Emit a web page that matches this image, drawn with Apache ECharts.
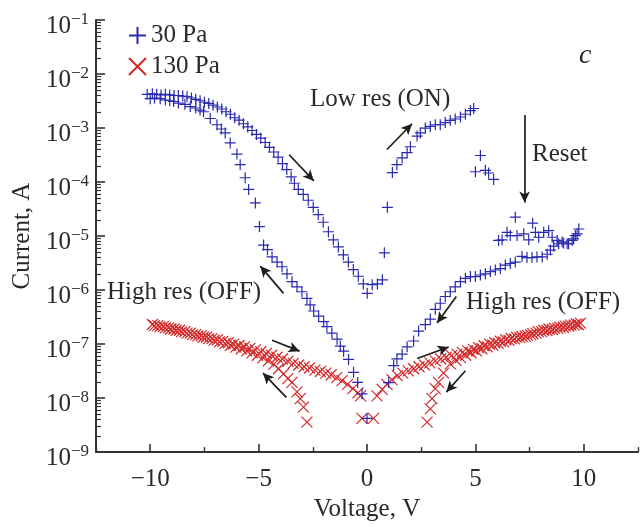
<!DOCTYPE html>
<html><head><meta charset="utf-8">
<script src="https://cdn.jsdelivr.net/npm/echarts@6/dist/echarts.min.js"></script>
<style>html,body{margin:0;padding:0;background:#fff}#c{width:640px;height:527px}</style>
</head><body><div id="c"></div>
<script>
// ---- tick labels / categories ----
const xMajorTicks = [-10, -5, 0, 5, 10];
const xMinorTicks = [-12.5, -7.5, -2.5, 2.5, 7.5, 12.5];
const yDecades = [1e-9, 1e-8, 1e-7, 1e-6, 1e-5, 1e-4, 1e-3, 1e-2, 1e-1];
const seriesNames = ['30 Pa', '130 Pa'];

// ---- 30 Pa (blue +) [V, A] ----
const blueOuterLeft = [[-10.14,4.2e-3],[-9.9,4.3e-3],[-9.7,4.2e-3],[-9.5,4.1e-3],[-9.3,4.2e-3],[-9.1,4.1e-3],[-8.9,4.0e-3],[-8.7,4.0e-3],[-8.5,3.9e-3],[-8.3,3.8e-3],[-8.1,3.6e-3],[-7.9,3.4e-3],[-7.7,3.2e-3],[-7.5,3.0e-3],[-7.3,2.85e-3],[-7.1,2.65e-3],[-6.9,2.45e-3],[-6.7,2.25e-3],[-6.5,2.0e-3],[-6.3,1.8e-3],[-6.1,1.55e-3],[-5.9,1.4e-3],[-5.7,1.2e-3],[-5.5,1.05e-3],[-5.3,9.0e-4],[-5.1,7.6e-4],[-4.9,6.5e-4],[-4.7,5.4e-4],[-4.5,4.4e-4],[-4.3,3.6e-4],[-4.1,2.9e-4],[-3.9,2.2e-4],[-3.7,1.7e-4],[-3.5,1.25e-4],[-3.35,9.5e-5],[-3.17,7.3e-5],[-2.94,5.9e-5],[-2.71,4.6e-5],[-2.48,3.4e-5],[-2.25,2.5e-5],[-2.02,1.8e-5],[-1.78,1.2e-5],[-1.55,8.5e-6],[-1.32,6.3e-6],[-1.09,4.5e-6],[-0.86,3.3e-6],[-0.63,2.4e-6],[-0.4,1.8e-6],[-0.17,1.3e-6],[0.01,8.7e-7],[0.24,1.26e-6],[0.48,1.3e-6],[0.71,1.55e-6]];
const blueInnerLeft = [[-10.0,3.5e-3],[-9.8,3.6e-3],[-9.54,3.5e-3],[-9.3,3.3e-3],[-9.1,3.2e-3],[-8.92,3.1e-3],[-8.7,2.9e-3],[-8.4,2.75e-3],[-8.15,2.5e-3],[-7.9,2.35e-3],[-7.7,2.15e-3],[-7.54,2.0e-3],[-7.23,1.5e-3],[-6.92,1.15e-3],[-6.72,9.6e-4],[-6.54,8.1e-4],[-6.31,5.3e-4],[-6.0,3.3e-4],[-5.85,2.1e-4],[-5.62,1.2e-4],[-5.46,7.3e-5],[-5.15,4.1e-5],[-4.96,1.5e-5],[-4.77,6.8e-6],[-4.59,5.6e-6],[-4.38,4.1e-6],[-4.15,3.3e-6],[-3.92,2.7e-6],[-3.69,2.0e-6],[-3.46,1.43e-6],[-3.23,1.15e-6],[-3.0,9.3e-7],[-2.77,7.0e-7],[-2.62,5.3e-7],[-2.46,4.1e-7],[-2.23,3.3e-7],[-2.0,2.6e-7],[-1.85,2.1e-7],[-1.62,1.6e-7],[-1.38,1.23e-7],[-1.23,9.2e-8],[-1.08,7.4e-8],[-0.85,5.2e-8],[-0.62,3.0e-8],[-0.43,1.95e-8],[-0.23,1.2e-8],[0.0,4.2e-9]];
const blueOnSwitch = [[0.80,4.9e-6],[0.94,3.4e-5],[1.17,1.5e-4]];
const blueLowRes = [[1.38,2.1e-4],[1.62,2.8e-4],[1.85,3.5e-4],[2.0,4.5e-4],[2.31,7.1e-4],[2.46,8.1e-4],[2.69,1.0e-3],[2.92,1.07e-3],[3.15,1.15e-3],[3.38,1.15e-3],[3.61,1.26e-3],[3.84,1.38e-3],[4.07,1.47e-3],[4.31,1.6e-3],[4.54,1.8e-3],[4.77,2.1e-3],[4.92,2.3e-3]];
const blueReset = [[5.23,3.1e-4],[5.0,1.55e-4],[5.46,1.65e-4],[5.61,1.47e-4],[5.84,1.12e-4],[6.84,2.24e-5],[7.64,1.73e-5]];
const blueResetCluster = [[6.07,8.3e-6],[6.23,8.5e-6],[6.46,1.17e-5],[6.61,1.02e-5],[6.92,1.02e-5],[7.23,1.1e-5],[7.46,8.5e-6],[7.77,1.17e-5],[7.92,9.5e-6],[8.15,1.17e-5],[8.38,1.26e-5],[8.54,9.5e-6],[8.77,8.3e-6],[9.0,7.8e-6],[9.23,7.2e-6],[9.46,8.3e-6],[9.61,1.02e-5],[9.77,1.35e-5]];
const blueOffRight = [[1.0,1.94e-8],[1.23,4.0e-8],[1.38,5.3e-8],[1.62,6.5e-8],[1.85,8.9e-8],[2.15,1.14e-7],[2.38,1.74e-7],[2.69,2.3e-7],[2.92,2.9e-7],[3.15,4.4e-7],[3.38,5.7e-7],[3.61,7.6e-7],[3.84,9.3e-7],[4.07,1.15e-6],[4.31,1.43e-6],[4.54,1.65e-6],[4.77,1.78e-6],[5.0,1.78e-6],[5.23,1.9e-6],[5.46,2.0e-6],[5.69,2.2e-6],[5.92,2.35e-6],[6.15,2.5e-6],[6.38,2.9e-6],[6.61,3.1e-6],[6.84,3.3e-6],[7.15,4.2e-6],[7.38,4.0e-6],[7.61,4.0e-6],[7.84,4.1e-6],[8.08,4.1e-6],[8.31,4.6e-6],[8.46,5.5e-6],[8.61,6.5e-6],[8.84,7.2e-6],[9.07,7.4e-6],[9.3,7.2e-6],[9.53,8.9e-6],[9.69,1.1e-5]];

// ---- 130 Pa (red x) [V, A] ----
const redLeftUpper = [[-9.9,2.3e-7],[-9.65,2.2e-7],[-9.4,2.1e-7],[-9.15,2.0e-7],[-8.9,1.9e-7],[-8.65,1.8e-7],[-8.4,1.7e-7],[-8.15,1.6e-7],[-7.9,1.5e-7],[-7.65,1.42e-7],[-7.4,1.35e-7],[-7.15,1.26e-7],[-6.9,1.2e-7],[-6.65,1.12e-7],[-6.4,1.06e-7],[-6.15,1.0e-7],[-5.9,9.4e-8],[-5.65,8.9e-8],[-5.4,8.3e-8],[-5.15,7.8e-8],[-4.9,7.2e-8],[-4.65,6.7e-8],[-4.4,6.2e-8],[-4.15,5.7e-8],[-3.9,5.3e-8],[-3.65,4.8e-8],[-3.4,4.4e-8],[-3.15,4.1e-8],[-2.9,3.8e-8],[-2.65,3.6e-8],[-2.4,3.3e-8],[-2.15,3.1e-8],[-1.9,2.9e-8],[-1.65,2.7e-8],[-1.4,2.4e-8],[-1.15,2.1e-8],[-0.9,1.8e-8],[-0.65,1.5e-8],[-0.42,1.25e-8],[-0.3,1.1e-8]];
const redLeftLower = [[-9.8,2.2e-7],[-9.55,2.1e-7],[-9.3,2.0e-7],[-9.05,1.9e-7],[-8.8,1.8e-7],[-8.55,1.7e-7],[-8.3,1.6e-7],[-8.05,1.5e-7],[-7.8,1.42e-7],[-7.55,1.34e-7],[-7.3,1.26e-7],[-7.05,1.18e-7],[-6.8,1.1e-7],[-6.55,1.02e-7],[-6.3,9.5e-8],[-6.05,8.8e-8],[-5.8,8.2e-8],[-5.55,7.5e-8],[-5.3,6.9e-8],[-5.05,6.2e-8],[-4.8,5.6e-8],[-4.55,4.9e-8],[-4.3,4.2e-8],[-4.08,3.5e-8],[-3.85,2.8e-8],[-3.65,2.3e-8],[-3.46,1.95e-8],[-3.23,1.3e-8],[-3.08,9.8e-9],[-2.93,6.8e-9],[-2.77,3.6e-9]];
const redZero = [[-0.23,4.2e-9],[0.3,4.2e-9]];
const redRightUpper = [[0.46,1.1e-8],[0.7,1.45e-8],[0.92,1.8e-8],[1.15,2.2e-8],[1.4,2.6e-8],[1.65,2.9e-8],[1.9,3.2e-8],[2.15,3.5e-8],[2.4,3.8e-8],[2.65,4.1e-8],[2.9,4.5e-8],[3.15,4.9e-8],[3.4,5.3e-8],[3.65,5.7e-8],[3.9,6.1e-8],[4.15,6.5e-8],[4.4,7.0e-8],[4.65,7.5e-8],[4.9,8.0e-8],[5.15,8.6e-8],[5.4,9.3e-8],[5.65,1.0e-7],[5.9,1.06e-7],[6.15,1.13e-7],[6.4,1.2e-7],[6.65,1.27e-7],[6.9,1.33e-7],[7.15,1.38e-7],[7.4,1.45e-7],[7.65,1.55e-7],[7.9,1.7e-7],[8.15,1.8e-7],[8.4,1.88e-7],[8.65,1.95e-7],[8.9,2.05e-7],[9.15,2.15e-7],[9.4,2.25e-7],[9.65,2.35e-7],[9.85,2.45e-7]];
const redRightLower = [[2.77,3.6e-9],[2.92,6.3e-9],[3.0,9.8e-9],[3.15,1.5e-8],[3.3,1.95e-8],[3.53,2.9e-8],[3.84,4.3e-8],[4.1,5.0e-8],[4.31,5.6e-8],[4.55,6.2e-8],[4.8,6.9e-8],[5.05,7.5e-8],[5.3,8.2e-8],[5.55,8.9e-8],[5.8,9.6e-8],[6.05,1.03e-7],[6.3,1.1e-7],[6.55,1.17e-7],[6.8,1.25e-7],[7.05,1.32e-7],[7.3,1.4e-7],[7.55,1.5e-7],[7.8,1.6e-7],[8.05,1.7e-7],[8.3,1.78e-7],[8.55,1.86e-7],[8.8,1.95e-7],[9.05,2.05e-7],[9.3,2.15e-7],[9.55,2.25e-7],[9.75,2.3e-7]];

// ---- annotation arrows [[V1,A1],[V2,A2]] (tail -> head) ----
const arrows = [
  [[-3.59,3.2e-4],[-2.45,1.05e-4]],
  [[0.92,4.0e-4],[2.08,1.2e-3]],
  [[7.27,1.75e-3],[7.27,4.2e-5]],
  [[-3.85,8.7e-7],[-4.92,2.78e-6]],
  [[4.12,7.6e-7],[3.23,2.46e-7]],
  [[-4.38,1.18e-7],[-3.11,7.4e-8]],
  [[-3.72,1.03e-8],[-4.80,2.9e-8]],
  [[2.31,5.4e-8],[3.77,8.8e-8]],
  [[4.54,3.2e-8],[3.66,1.29e-8]]
];

const FONT = '"Liberation Serif","Times New Roman",serif';
const TXT = '#2a2a2a';
const AX = '#333';
const BLUE = '#2a2ab0';
const RED = '#d42828';
const yMinorTicks = [];
for (let e = -9; e < -1; e++) for (let k = 2; k <= 9; k++) yMinorTicks.push(+(k * Math.pow(10, e)).toPrecision(3));

const blueAll = [].concat(blueOuterLeft, blueInnerLeft, blueOnSwitch, blueLowRes, blueReset, blueResetCluster, blueOffRight);
const redAll = [].concat(redLeftUpper, redLeftLower, redZero, redRightUpper, redRightLower);

const chart = echarts.init(document.getElementById('c'), null, {renderer: 'canvas'});
chart.setOption({
  animation: false,
  backgroundColor: '#fff',
  grid: {left: 96, right: 2, top: 20, bottom: 70},
  legend: {
    data: [{name: seriesNames[0]}, {name: seriesNames[1]}],
    orient: 'vertical', left: 123, top: 18, itemWidth: 17, itemHeight: 17, itemGap: 6,
    textStyle: {fontFamily: FONT, fontSize: 25, color: TXT, padding: [0, 0, 0, 0]},
    selectedMode: false
  },
  xAxis: [{
    type: 'value', min: -12.5, max: 12.5, position: 'bottom',
    name: 'Voltage, V', nameLocation: 'middle', nameGap: 41,
    nameTextStyle: {fontFamily: FONT, fontSize: 25, color: TXT},
    axisLine: {show: true, onZero: false, lineStyle: {color: AX, width: 2}},
    axisTick: {show: true, inside: true, length: 8, customValues: xMajorTicks, lineStyle: {color: AX, width: 1.6}},
    axisLabel: {customValues: xMajorTicks, margin: 15, fontFamily: FONT, fontSize: 25, color: TXT,
      formatter: v => (v < 0 ? '\u2212' + Math.abs(v) : String(v))},
    splitLine: {show: false}
  }, {
    type: 'value', min: -12.5, max: 12.5, position: 'bottom',
    axisLine: {show: false, onZero: false},
    axisTick: {show: true, inside: true, length: 5, customValues: xMinorTicks, lineStyle: {color: AX, width: 1.4}},
    axisLabel: {show: false}, splitLine: {show: false}
  }],
  yAxis: [{
    type: 'log', logBase: 10, min: 1e-9, max: 1e-1, position: 'left',
    name: 'Current, A', nameLocation: 'middle', nameGap: 53, nameRotate: 90,
    nameTextStyle: {fontFamily: FONT, fontSize: 25, color: TXT},
    axisLine: {show: true, onZero: false, lineStyle: {color: AX, width: 2}},
    axisTick: {show: true, inside: true, length: 9, customValues: yDecades, lineStyle: {color: AX, width: 1.6}},
    axisLabel: {customValues: yDecades, margin: 7, color: TXT, padding: [10, 0, 0, 0],
      formatter: v => '{b|10}{s|\u2212' + Math.abs(Math.round(Math.log10(v))) + '}',
      rich: {b: {fontFamily: FONT, fontSize: 25, color: TXT, verticalAlign: 'bottom'},
             s: {fontFamily: FONT, fontSize: 17, color: TXT, verticalAlign: 'bottom', padding: [0, 0, 11, 0]}}},
    splitLine: {show: false}
  }, {
    type: 'log', logBase: 10, min: 1e-9, max: 1e-1, position: 'left',
    axisLine: {show: false, onZero: false},
    axisTick: {show: true, inside: true, length: 5, customValues: yMinorTicks, lineStyle: {color: AX, width: 1.2}},
    axisLabel: {show: false}, splitLine: {show: false}
  }],
  series: [{
    name: seriesNames[1], type: 'scatter', data: redAll,
    symbol: 'path://M0,0L10,10M10,0L0,10', symbolSize: 11,
    itemStyle: {color: 'rgba(0,0,0,0)', borderColor: RED, borderWidth: 1.2, opacity: 1},
    emphasis: {disabled: true}, silent: true
  }, {
    name: seriesNames[0], type: 'scatter', data: blueAll,
    symbol: 'path://M0,5L10,5M5,0L5,10', symbolSize: 11,
    itemStyle: {color: 'rgba(0,0,0,0)', borderColor: BLUE, borderWidth: 1.2, opacity: 1},
    emphasis: {disabled: true}, silent: true
  }, {
    name: 'arrows', type: 'scatter', data: [], silent: true,
    markLine: {
      silent: true, animation: false, symbol: ['none', 'arrow'], symbolSize: [8, 11],
      label: {show: false}, emphasis: {disabled: true},
      lineStyle: {color: '#1e1e1e', width: 1.7, type: 'solid'},
      data: arrows.map(a => [{coord: a[0]}, {coord: a[1]}])
    }
  }],
  graphic: [
    {type: 'text', left: 310, top: 87, style: {text: 'Low res (ON)', font: '25px ' + FONT, fill: TXT}},
    {type: 'text', left: 532, top: 142, style: {text: 'Reset', font: '25px ' + FONT, fill: TXT}},
    {type: 'text', left: 107, top: 280, style: {text: 'High res (OFF)', font: '25px ' + FONT, fill: TXT}},
    {type: 'text', left: 466, top: 290, style: {text: 'High res (OFF)', font: '25px ' + FONT, fill: TXT}},
    {type: 'text', left: 579, top: 42, style: {text: 'c', font: 'italic 28px ' + FONT, fill: TXT}}
  ]
});
</script>
</body></html>
